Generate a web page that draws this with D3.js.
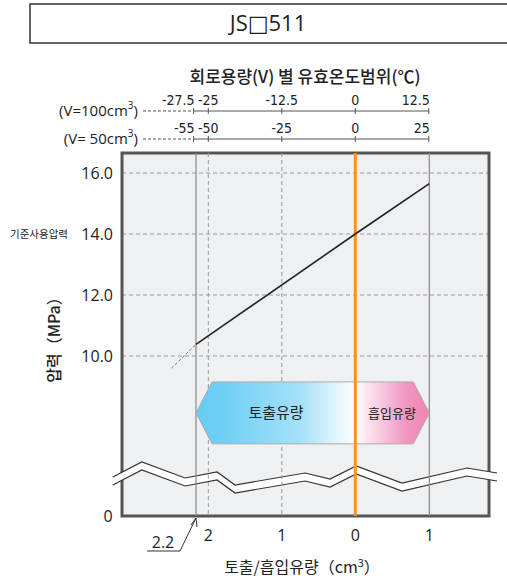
<!DOCTYPE html>
<html>
<head>
<meta charset="utf-8">
<script src="https://cdn.jsdelivr.net/npm/d3@7"></script>
<style>
  body { margin: 0; background: #fff; }
  svg text { font-family: "Open Sans", "Noto Sans CJK KR", sans-serif; fill: #222; }
  .kr { font-family: "Noto Sans CJK KR", sans-serif; }
  .num { font-family: "Liberation Sans Narrow", "DejaVu Sans Condensed", "Open Sans", sans-serif; }
</style>
</head>
<body>
<svg id="chart" width="507" height="579"></svg>
<script>
// flow (cm3), positive = discharge (left side)
const flowTicks = [2, 1, 0, -1];
const yTicks = [10, 12, 14, 16];
// pressure curve (flow cm3 -> MPa)
const curveSolid = [[2.2, 10.38], [0, 14.0], [-1, 15.65]];
const curveDashed = [[2.6, 9.6], [2.2, 10.38]];
// top temperature axes
const temp100 = [-27.5, -25, -12.5, 0, 12.5];
const temp50 = [-55, -50, -25, 0, 25];
const ratedPressure = 14.0;
const maxFlow = 2.2;

const m = {left: 122, right: 489, top: 153, bottom: 516};

const svg = d3.select('#chart');

// piecewise scale, the 2.2 mark is drawn a bit away from true position in the original
const x = d3.scaleLinear().domain([2.2, 2, 0, -1]).range([196, 208.3, 355.3, 429.3]);
const y = d3.scaleLinear().domain([10, 16]).range([356, 173]);

// temperature scales share the flow axis
const t100 = d3.scaleLinear().domain([0, -12.5]).range([x(0), x(1)]);
const t50 = d3.scaleLinear().domain([0, -25]).range([x(0), x(1)]);

// title box
svg.append('rect')
  .attr('x', 30).attr('y', 4).attr('width', 490).attr('height', 39)
  .attr('fill', 'none').attr('stroke', '#333').attr('stroke-width', 1.5);
svg.append('text')
  .attr('x', 268).attr('y', 31).attr('text-anchor', 'middle')
  .attr('font-size', 22)
  .style('font-family', '"Open Sans", "DejaVu Sans", sans-serif')
  .text('JS\u25A1511');

svg.append('text').attr('class', 'kr')
  .attr('x', 305).attr('y', 83).attr('text-anchor', 'middle')
  .attr('font-size', 17).attr('font-weight', 500)
  .text('회로용량(V) 별 유효온도범위(℃)');

// plot background
svg.append('rect')
  .attr('x', m.left).attr('y', m.top)
  .attr('width', m.right - m.left).attr('height', m.bottom - m.top)
  .attr('fill', '#eff0f2');

// horizontal dashed grid
svg.append('g').selectAll('line')
  .data(yTicks)
  .join('line')
    .attr('x1', m.left).attr('x2', m.right)
    .attr('y1', d => y(d)).attr('y2', d => y(d))
    .attr('stroke', '#999').attr('stroke-width', 1).attr('stroke-dasharray', '4,3');

// frame
svg.append('rect')
  .attr('x', m.left).attr('y', m.top)
  .attr('width', m.right - m.left).attr('height', m.bottom - m.top)
  .attr('fill', 'none').attr('stroke', '#555').attr('stroke-width', 3);

// axis break band (decoration)
const brk = [[-0.025, 39], [0.054, 54], [0.172, 38], [0.259, 44], [0.308, 31], [0.499, 43],
             [0.567, 37], [0.638, 50], [0.763, 33], [0.940, 48], [1.022, 43]];
const bw = m.right - m.left;
const upper = brk.map(d => [m.left + d[0] * bw, m.bottom - d[1]]);
const lower = upper.map(p => [p[0], p[1] + 8]).reverse();
svg.append('path')
  .attr('d', 'M' + upper.concat(lower).map(p => p.join(',')).join('L') + 'Z')
  .attr('fill', '#fff');
const ln = d3.line();
svg.append('path').attr('d', ln(upper)).attr('fill', 'none').attr('stroke', '#333').attr('stroke-width', 1.2);
svg.append('path').attr('d', ln(lower)).attr('fill', 'none').attr('stroke', '#333').attr('stroke-width', 1.2);

// vertical lines
svg.append('g').selectAll('line')
  .data([maxFlow, -1])
  .join('line')
    .attr('x1', d => x(d)).attr('x2', d => x(d))
    .attr('y1', m.top).attr('y2', m.bottom)
    .attr('stroke', '#888').attr('stroke-width', 1.2);
svg.append('g').selectAll('line')
  .data([2, 1])
  .join('line')
    .attr('x1', d => x(d)).attr('x2', d => x(d))
    .attr('y1', m.top).attr('y2', m.bottom)
    .attr('stroke', '#999').attr('stroke-width', 1).attr('stroke-dasharray', '4,3');

// discharge / suction banner
const grad = svg.append('defs').append('linearGradient').attr('id', 'bannerGrad')
  .attr('x1', '0%').attr('x2', '100%');
[[0, '#66ccf5'], [0.12, '#6fd0f6'], [0.45, '#a6e1f8'], [0.68, '#ffffff'], [0.9, '#f296c1'], [1, '#ee85b5']]
  .forEach(s => grad.append('stop').attr('offset', s[0]).attr('stop-color', s[1]));
const bTop = y(9.15), bBot = y(7.12), bMid = (bTop + bBot) / 2, tip = 16;
const bl = x(maxFlow), br = x(-1);
svg.append('path')
  .attr('d', `M${bl},${bMid}L${bl + tip},${bTop}L${br - tip},${bTop}L${br},${bMid}L${br - tip},${bBot}L${bl + tip},${bBot}Z`)
  .attr('fill', 'url(#bannerGrad)').attr('stroke', '#aaa').attr('stroke-width', 1);
svg.append('text').attr('class', 'kr')
  .attr('x', 276).attr('y', bMid + 5).attr('text-anchor', 'middle')
  .attr('font-size', 15).text('토출유량');
svg.append('text').attr('class', 'kr')
  .attr('x', 392).attr('y', bMid + 5).attr('text-anchor', 'middle')
  .attr('font-size', 13).text('흡입유량');

// rated line at 0 flow
svg.append('line')
  .attr('x1', x(0)).attr('x2', x(0))
  .attr('y1', m.top).attr('y2', m.bottom)
  .attr('stroke', '#f7931e').attr('stroke-width', 3);

// pressure curve
const line = d3.line().x(d => x(d[0])).y(d => y(d[1]));
svg.append('path').attr('d', line(curveDashed))
  .attr('fill', 'none').attr('stroke', '#777').attr('stroke-width', 1).attr('stroke-dasharray', '3,2');
svg.append('path').attr('d', line(curveSolid))
  .attr('fill', 'none').attr('stroke', '#222').attr('stroke-width', 1.6);

// y tick labels
svg.append('g').selectAll('text')
  .data(yTicks)
  .join('text')
    .attr('x', 113).attr('y', d => y(d) + 6)
    .attr('text-anchor', 'end').attr('font-size', 16)
    .text(d3.format('.1f'));
svg.append('text')
  .attr('x', 108).attr('y', m.bottom + 6).attr('text-anchor', 'middle')
  .attr('font-size', 16).text('0');
svg.append('text').attr('class', 'kr')
  .attr('x', 10).attr('y', y(ratedPressure) + 4)
  .attr('font-size', 10.5).text('기준사용압력');
svg.append('text').attr('class', 'kr')
  .attr('transform', `translate(60 336) rotate(-90)`)
  .attr('text-anchor', 'middle').attr('font-size', 16).attr('font-weight', 500)
  .text('압력（MPa）');

// x tick labels
svg.append('g').selectAll('text')
  .data(flowTicks)
  .join('text')
    .attr('x', d => x(d)).attr('y', 541)
    .attr('text-anchor', 'middle').attr('font-size', 16)
    .text(d => Math.abs(d));

// 2.2 callout
svg.append('text')
  .attr('x', 163).attr('y', 548).attr('text-anchor', 'middle')
  .attr('font-size', 16).text(maxFlow);
svg.append('path')
  .attr('d', `M147,551L180,551L${x(maxFlow)},${m.bottom + 2}`)
  .attr('fill', 'none').attr('stroke', '#333').attr('stroke-width', 1);
svg.append('path')
  .attr('d', `M${x(maxFlow) - 5},${m.bottom + 9}L${x(maxFlow)},${m.bottom + 2}L${x(maxFlow) + 1},${m.bottom + 11}`)
  .attr('fill', 'none').attr('stroke', '#333').attr('stroke-width', 1);

svg.append('text').attr('class', 'kr')
  .attr('x', 302).attr('y', 573).attr('text-anchor', 'middle')
  .attr('font-size', 16)
  .text('토출/흡입유량（cm')
  .append('tspan').attr('font-size', 11).attr('dy', -6).text('3')
  .select(function() { return this.parentNode; })
  .append('tspan').attr('dy', 6).text('）');

// top temperature axes
function tempAxis(scale, ticks, yPos, label) {
  const g = svg.append('g');
  g.append('line')
    .attr('x1', scale(ticks[0])).attr('x2', scale(ticks[ticks.length - 1]))
    .attr('y1', yPos).attr('y2', yPos)
    .attr('stroke', '#555').attr('stroke-width', 1.2);
  g.selectAll('line.tk')
    .data(ticks)
    .join('line').attr('class', 'tk')
      .attr('x1', d => scale(d)).attr('x2', d => scale(d))
      .attr('y1', yPos - 3).attr('y2', yPos + 3)
      .attr('stroke', '#555').attr('stroke-width', 1);
  g.selectAll('text')
    .data(ticks)
    .join('text').attr('class', 'num')
      .attr('x', (d, i) => (i === 0 || i === ticks.length - 1) ? scale(d) + 1 : scale(d))
      .attr('y', yPos - 6)
      .attr('text-anchor', (d, i) => (i === 0 || i === ticks.length - 1) ? 'end' : 'middle')
      .attr('font-size', 14)
      .text(d => d);
  g.append('line')
    .attr('x1', 143).attr('x2', scale(ticks[0]))
    .attr('y1', yPos).attr('y2', yPos)
    .attr('stroke', '#555').attr('stroke-width', 1).attr('stroke-dasharray', '3,2');
  const t = g.append('text')
    .attr('x', 138).attr('y', yPos + 5).attr('text-anchor', 'end')
    .attr('font-size', 15)
    .text(label);
  t.append('tspan').attr('font-size', 10).attr('dy', -7).text('3');
  t.append('tspan').attr('dy', 7).text(')');
}
tempAxis(t100, temp100, 111, '(V=100cm');
tempAxis(t50, temp50, 139, '(V= 50cm');
</script>
</body>
</html>
